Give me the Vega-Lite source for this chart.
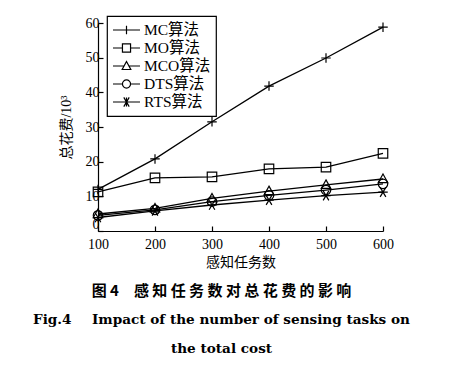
{
  "$schema": "https://vega.github.io/schema/vega-lite/v6.json",
  "width": 285,
  "height": 208,
  "autosize": "none",
  "padding": {"left": 98, "top": 23, "right": 74, "bottom": 143},
  "background": "white",
  "config": {
    "view": {"stroke": null},
    "font": "Liberation Serif, Noto Sans CJK SC",
    "legend": {"strokeWidth": 1.2},
    "axis": {"domainColor": "black", "tickColor": "black", "labelColor": "black", "titleColor": "black", "grid": false, "labelFont": "Liberation Serif", "labelFontSize": 14, "titleFont": "Liberation Serif, Noto Sans CJK SC", "titleFontSize": 14, "titleFontWeight": "normal", "tickSize": -5, "domainWidth": 1.2, "tickWidth": 1.2, "labelFlush": false, "labelOverlap": false}
  },
  "title": {
    "text": "图 4　感 知 任 务 数 对 总 花 费 的 影 响",
    "subtitle": ["Fig.4\u2003\u2002Impact of the number of sensing tasks on", "the total cost"],
    "orient": "bottom",
    "anchor": "middle",
    "dx": -19,
    "offset": 15,
    "font": "Noto Sans CJK SC",
    "fontSize": 15,
    "fontWeight": "bold",
    "color": "black",
    "subtitleFont": "DejaVu Serif",
    "subtitleFontSize": 13.6,
    "subtitleFontWeight": "bold",
    "subtitleColor": "black",
    "subtitleLineHeight": 29,
    "subtitlePadding": 14
  },
  "data": {"values": [
    {"n": 100, "s": "MC算法", "v": 12.0}, {"n": 200, "s": "MC算法", "v": 20.8}, {"n": 300, "s": "MC算法", "v": 31.5}, {"n": 400, "s": "MC算法", "v": 41.8}, {"n": 500, "s": "MC算法", "v": 49.9}, {"n": 600, "s": "MC算法", "v": 58.8},
    {"n": 100, "s": "MO算法", "v": 11.3}, {"n": 200, "s": "MO算法", "v": 15.3}, {"n": 300, "s": "MO算法", "v": 15.6}, {"n": 400, "s": "MO算法", "v": 17.9}, {"n": 500, "s": "MO算法", "v": 18.4}, {"n": 600, "s": "MO算法", "v": 22.4},
    {"n": 100, "s": "MCO算法", "v": 4.9}, {"n": 200, "s": "MCO算法", "v": 6.5}, {"n": 300, "s": "MCO算法", "v": 9.4}, {"n": 400, "s": "MCO算法", "v": 11.5}, {"n": 500, "s": "MCO算法", "v": 13.3}, {"n": 600, "s": "MCO算法", "v": 15.0},
    {"n": 100, "s": "DTS算法", "v": 4.5}, {"n": 200, "s": "DTS算法", "v": 6.1}, {"n": 300, "s": "DTS算法", "v": 8.5}, {"n": 400, "s": "DTS算法", "v": 10.3}, {"n": 500, "s": "DTS算法", "v": 11.8}, {"n": 600, "s": "DTS算法", "v": 13.6},
    {"n": 100, "s": "RTS算法", "v": 3.9}, {"n": 200, "s": "RTS算法", "v": 5.8}, {"n": 300, "s": "RTS算法", "v": 7.5}, {"n": 400, "s": "RTS算法", "v": 8.9}, {"n": 500, "s": "RTS算法", "v": 10.2}, {"n": 600, "s": "RTS算法", "v": 11.2}
  ]},
  "encoding": {
    "x": {"field": "n", "type": "quantitative", "scale": {"domain": [100, 600], "nice": false}, "axis": {"values": [100, 200, 300, 400, 500, 600], "title": "感知任务数", "labelPadding": 11, "titlePadding": 4}},
    "y": {"field": "v", "type": "quantitative", "scale": {"domain": [0, 60], "nice": false}, "axis": {"values": [0, 10, 20, 30, 40, 50, 60], "title": "总花费/10³", "labelPadding": 4, "titlePadding": 12, "labelBaseline": {"condition": {"test": "datum.value === 0", "value": "bottom"}, "value": "middle"}}}
  },
  "layer": [
    {"mark": {"type": "line", "color": "black", "strokeWidth": 1.3}, "encoding": {"detail": {"field": "s"}}},
    {"mark": {"type": "point", "filled": false, "color": "black", "strokeWidth": 1.2, "size": 90, "opacity": 1},
     "encoding": {"shape": {"field": "s", "type": "nominal", "legend": null,
       "scale": {"domain": ["MC算法", "MO算法", "MCO算法", "DTS算法", "RTS算法"],
                 "range": ["M-1,0H1M0,-1V1", "M-1,-1H1V1H-1Z", "M0,-1.05L1,0.75H-1Z", "M1,0A1,1 0 1,1 -1,0A1,1 0 1,1 1,0", "M-1,0H1M-0.6,-1L0.6,1M-0.6,1L0.6,-1"]}}}
    },
    {"mark": {"type": "point", "filled": false, "color": "black", "strokeWidth": 1.2, "size": 729, "opacity": 0},
     "encoding": {"shape": {"field": "s", "type": "nominal",
       "scale": {"domain": ["MC算法", "MO算法", "MCO算法", "DTS算法", "RTS算法"],
                 "range": ["M-1,0H1M0,-0.32V0.32", "M-1,0H-0.3M0.3,0H1M-0.3,-0.3H0.3V0.3H-0.3Z", "M-1,0H-0.18M0.18,0H1M0,-0.34L0.32,0.26H-0.32Z", "M-1,0H-0.3M0.3,0H1M0.3,0A0.3,0.3 0 1,1 -0.3,0A0.3,0.3 0 1,1 0.3,0", "M-1,0H1M-0.2,-0.34L0.2,0.34M-0.2,0.34L0.2,-0.34M0,-0.34V0.34"]},
       "legend": {"title": null, "orient": "none", "legendX": 9, "legendY": -7, "fillColor": "white", "strokeColor": "black", "padding": 5, "symbolSize": 729, "clipHeight": 18, "rowPadding": 0, "labelFont": "Liberation Serif, Noto Sans CJK SC", "labelFontSize": 15.5, "labelColor": "black", "labelOffset": 3, "symbolStrokeColor": "black", "symbolStrokeWidth": 1.2, "symbolFillColor": "white", "symbolOpacity": 1}}}
    }
  ],
  "resolve": {"scale": {"shape": "independent"}, "legend": {"shape": "independent"}}
}
